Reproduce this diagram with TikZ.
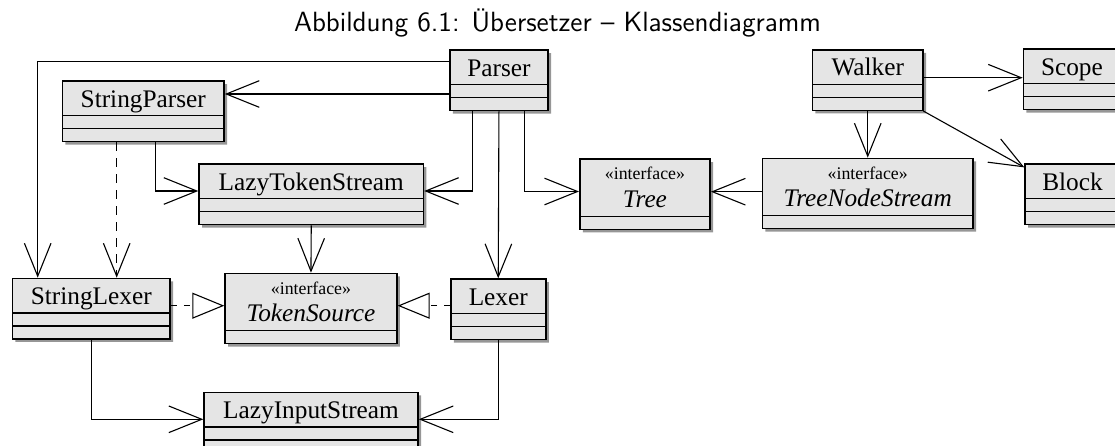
\documentclass[tikz,border=0pt]{standalone}
\usepackage{fontspec}
\setmainfont{Liberation Serif}
\usepackage{tikz}
\usetikzlibrary{shapes.multipart}
\usetikzlibrary{shadows}
\usetikzlibrary{arrows.meta}
\definecolor{classfill}{RGB}{229,229,229}
\definecolor{shadowgray}{RGB}{150,150,150}
\tikzstyle{classbox} = [rectangle split, rectangle split parts=3, draw, line width=0.75pt, fill=classfill, drop shadow={shadow xshift=1.5pt, shadow yshift=-1.5pt, fill=shadowgray, opacity=1}, inner xsep=0pt, inner ysep=0pt, rectangle split empty part height=5.75pt, rectangle split empty part depth=0pt, rectangle split empty part width=0pt, anchor=north west, font=\fontsize{12.65}{13.7}\selectfont]
\tikzstyle{ifacebox} = [classbox, rectangle split parts=2]
\tikzstyle{assoc} = [-{Straight Barb[length=16.5pt, width=13.3pt]}, line width=0.55pt]
\tikzstyle{dep} = [assoc, dash pattern=on 4.5pt off 3.5pt]
\tikzstyle{realize} = [-{Triangle[open, length=16pt, width=13pt]}, line width=0.55pt, dash pattern=on 3pt off 3.5pt]
\newcommand{\cname}[1]{\rule[-3.85pt]{0pt}{16.5pt}#1}
\newcommand{\iname}[1]{\rule[-4.15pt]{0pt}{27.85pt}\begin{tabular}[b]{@{}c@{}}{\fontsize{8.9}{10}\selectfont «interface»}\\\textit{#1}\end{tabular}}

\begin{document}
\begin{tikzpicture}[x=0.5pt, y=-0.5pt]

  \clip (0,0) rectangle (1115,445);

  \node[anchor=base] (title) at (557.5,31.5) {\fontsize{13.9}{16}\sffamily Abbildung 6.1: Übersetzer – Klassendiagramm};

  % classes
  \node[classbox, minimum width=49.2pt] (parser) at (449,49.3) {\cname{Parser}};
  \node[classbox, minimum width=80.8pt] (sparser) at (61.7,80.3) {\cname{StringParser}};
  \node[classbox, minimum width=112.2pt] (lts) at (198.3,163.3) {\cname{LazyTokenStream}};
  \node[ifacebox, minimum width=65.2pt] (tree) at (579,158.3) {\iname{Tree}};
  \node[ifacebox, minimum width=105.3pt] (tns) at (761.7,157.7) {\iname{TreeNodeStream}};
  \node[classbox, minimum width=55.3pt] (walker) at (811.7,49) {\cname{Walker}};
  \node[classbox, minimum width=48.5pt] (scope) at (1022.7,48.3) {\cname{Scope}};
  \node[classbox, minimum width=47.5pt] (block) at (1024.3,163.3) {\cname{Block}};
  \node[classbox, minimum width=78.8pt] (slexer) at (11.7,277.7) {\cname{StringLexer}};
  \node[ifacebox, minimum width=85.9pt] (tsource) at (224.3,272.7) {\iname{TokenSource}};
  \node[classbox, minimum width=47.5pt] (lexer) at (450,278.3) {\cname{Lexer}};
  \node[classbox, minimum width=107pt] (lis) at (203.3,391.7) {\cname{LazyInputStream}};

  % associations
  \draw[assoc] (parser.west |- 0,61.7) -| (slexer.north -| 37.7,0);
  \draw[assoc] (parser.west |- 0,94) -- (sparser.east |- 0,94);
  \draw[assoc] (parser.south -| 472.3,0) |- (lts.east |- 0,191);
  \draw[assoc] (parser.south) -- (lexer.north);
  \draw[assoc] (parser.south -| 524.3,0) |- (tree.west |- 0,191.5);
  \draw[assoc] (sparser.south -| 155.3,0) |- (lts.west |- 0,191);
  \draw[dep] (sparser.south -| 116.7,0) -- (slexer.north -| 116.7,0);
  \draw[assoc] (lts.south) -- (tsource.north);
  \draw[assoc] (slexer.south) |- (lis.west |- 0,419.3);
  \draw[assoc] (lexer.south) |- (lis.east |- 0,419.3);
  \draw[assoc] (tns.west |- 0,191.7) -- (tree.east |- 0,191.7);
  \draw[assoc] (walker.south) -- (tns.north);
  \draw[assoc] (walker.east |- 0,77.7) -- (scope.west |- 0,77.7);
  \draw[assoc] (walker) -- (block);

  % realizations
  \draw[realize] (slexer.east |- 0,305.7) -- (tsource.west |- 0,305.7);
  \draw[realize] (lexer.west |- 0,305.7) -- (tsource.east |- 0,305.7);

\end{tikzpicture}
\end{document}
